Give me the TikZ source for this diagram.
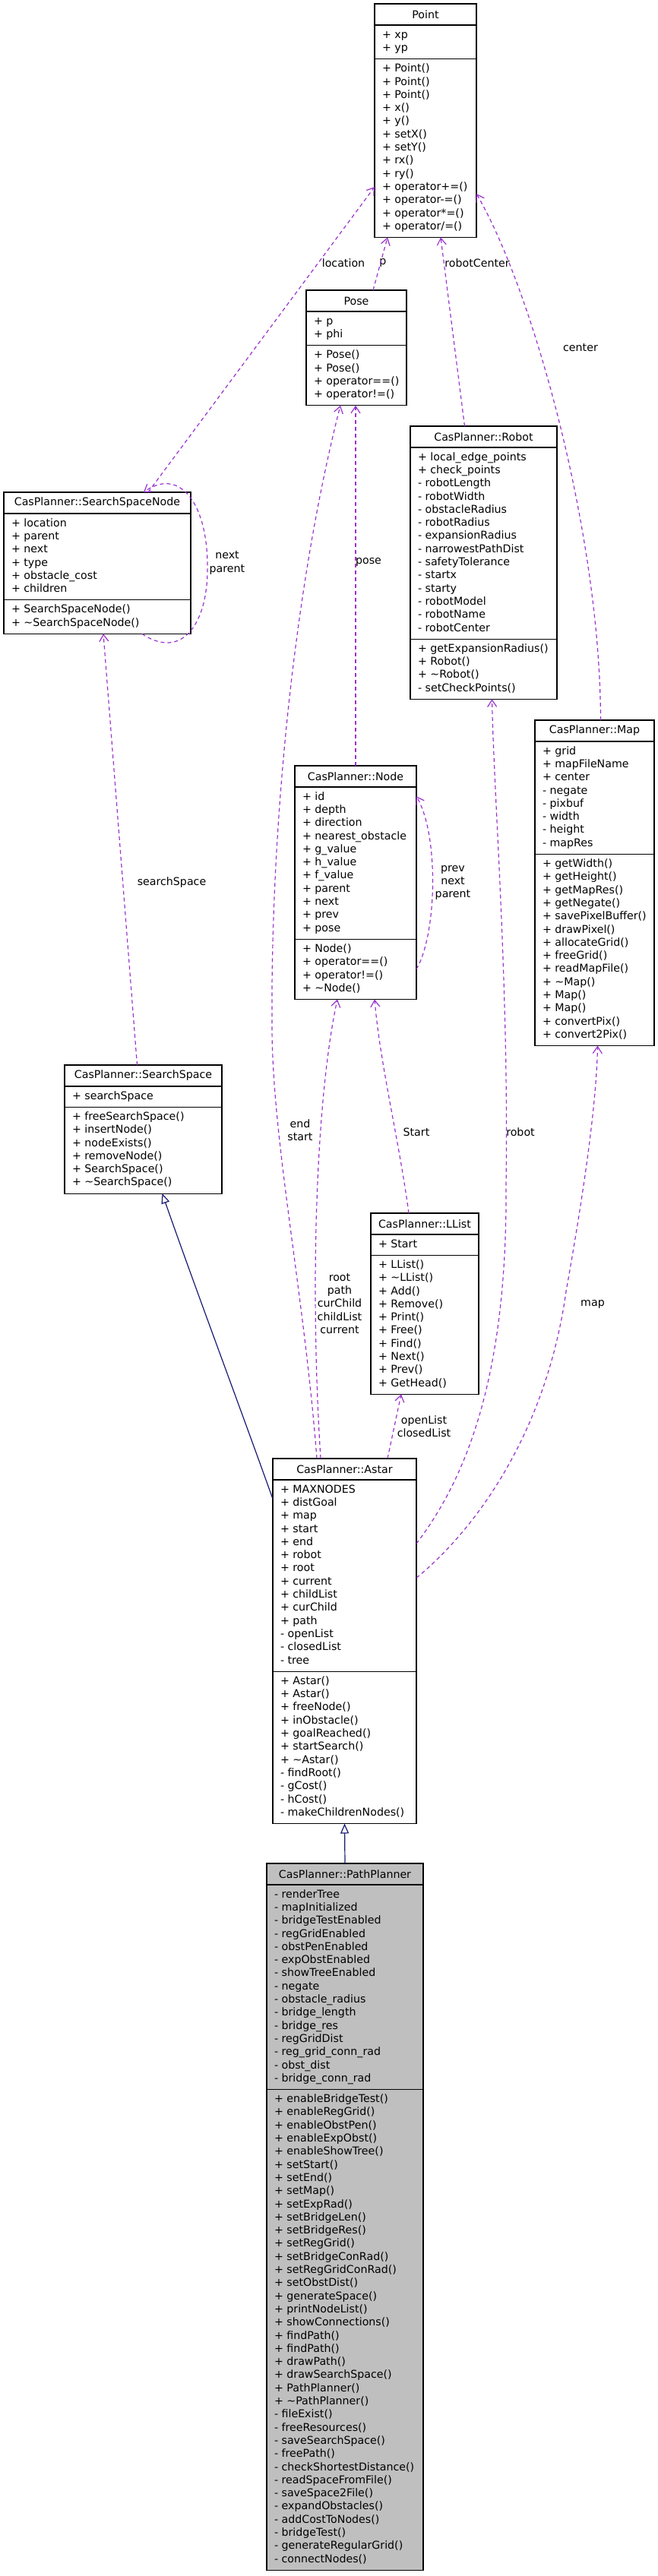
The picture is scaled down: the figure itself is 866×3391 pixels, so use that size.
\documentclass[tikz,border=0pt]{standalone}
\usepackage{fontspec}
\setmainfont{DejaVu Sans}
\usepackage{xcolor}
\usepackage{tikz}
\usetikzlibrary{positioning,arrows.meta}
\definecolor{usesPurple}{HTML}{9A32CD}
\definecolor{baseBlue}{HTML}{191970}
\definecolor{focusGray}{HTML}{BFBFBF}
\newcommand{\members}[2]{\makebox[\dimexpr#1-20pt\relax][l]{\begin{tabular}{@{}l@{}}#2\end{tabular}}}
\newcommand{\umlclass}[8]{%
  \node[clshead,fill=#2,minimum width=#5pt] (#1) at (#3,#4) {#6};
  \node[clsbody,fill=#2,minimum width=#5pt,below=0pt of #1] (#1-a) {\members{#5pt}{#7}};
  \node[clsbody,fill=#2,minimum width=#5pt,below=0pt of #1-a] (#1-m) {\members{#5pt}{#8}};}

\begin{document}
\begin{tikzpicture}[
  x=1pt,y=-1pt,
  font=\fontsize{14.2pt}{17.3pt}\selectfont,
  clshead/.style={draw,line width=1.2pt,anchor=north west,outer sep=0pt,inner sep=0pt,minimum height=28pt},
  clsbody/.style={draw,line width=1.2pt,outer sep=0pt,inner xsep=10pt,inner ysep=5pt},
  usearr/.style={-{Straight Barb[length=9pt,width=12pt]},usesPurple,line width=1.2pt,dash pattern=on 5pt off 4pt},
  inharr/.style={-{Triangle[open,length=13pt,width=11pt]},baseBlue,line width=1.2pt},
  lbl/.style={inner sep=0pt,align=center}
]
\useasboundingbox (0,0) rectangle (866,3391);

\umlclass{point}{white}{493}{5}{134}{Point}
  {+ xp\\+ yp}
  {+ Point()\\+ Point()\\+ Point()\\+ x()\\+ y()\\+ setX()\\+ setY()\\+ rx()\\+ ry()\\+ operator+=()\\+ operator-=()\\+ operator*=()\\+ operator/=()}
\umlclass{pose}{white}{403}{382}{132}{Pose}
  {+ p\\+ phi}
  {+ Pose()\\+ Pose()\\+ operator==()\\+ operator!=()}
\umlclass{ssn}{white}{5}{648}{246}{CasPlanner::SearchSpaceNode}
  {+ location\\+ parent\\+ next\\+ type\\+ obstacle\_cost\\+ children}
  {+ SearchSpaceNode()\\+ \textasciitilde SearchSpaceNode()}
\umlclass{robot}{white}{540}{561}{193}{CasPlanner::Robot}
  {+ local\_edge\_points\\+ check\_points\\- robotLength\\- robotWidth\\- obstacleRadius\\- robotRadius\\- expansionRadius\\- narrowestPathDist\\- safetyTolerance\\- startx\\- starty\\- robotModel\\- robotName\\- robotCenter}
  {+ getExpansionRadius()\\+ Robot()\\+ \textasciitilde Robot()\\- setCheckPoints()}
\umlclass{map}{white}{704}{948}{157}{CasPlanner::Map}
  {+ grid\\+ mapFileName\\+ center\\- negate\\- pixbuf\\- width\\- height\\- mapRes}
  {+ getWidth()\\+ getHeight()\\+ getMapRes()\\+ getNegate()\\+ savePixelBuffer()\\+ drawPixel()\\+ allocateGrid()\\+ freeGrid()\\+ readMapFile()\\+ \textasciitilde Map()\\+ Map()\\+ Map()\\+ convertPix()\\+ convert2Pix()}
\umlclass{node}{white}{388}{1008}{160}{CasPlanner::Node}
  {+ id\\+ depth\\+ direction\\+ nearest\_obstacle\\+ g\_value\\+ h\_value\\+ f\_value\\+ parent\\+ next\\+ prev\\+ pose}
  {+ Node()\\+ operator==()\\+ operator!=()\\+ \textasciitilde Node()}
\umlclass{sspace}{white}{85}{1402}{207}{CasPlanner::SearchSpace}
  {+ searchSpace}
  {+ freeSearchSpace()\\+ insertNode()\\+ nodeExists()\\+ removeNode()\\+ SearchSpace()\\+ \textasciitilde SearchSpace()}
\umlclass{llist}{white}{488}{1597}{142}{CasPlanner::LList}
  {+ Start}
  {+ LList()\\+ \textasciitilde LList()\\+ Add()\\+ Remove()\\+ Print()\\+ Free()\\+ Find()\\+ Next()\\+ Prev()\\+ GetHead()}
\umlclass{astar}{white}{359}{1920}{189}{CasPlanner::Astar}
  {+ MAXNODES\\+ distGoal\\+ map\\+ start\\+ end\\+ robot\\+ root\\+ current\\+ childList\\+ curChild\\+ path\\- openList\\- closedList\\- tree}
  {+ Astar()\\+ Astar()\\+ freeNode()\\+ inObstacle()\\+ goalReached()\\+ startSearch()\\+ \textasciitilde Astar()\\- findRoot()\\- gCost()\\- hCost()\\- makeChildrenNodes()}
\umlclass{pplanner}{focusGray}{351}{2453}{206}{CasPlanner::PathPlanner}
  {- renderTree\\- mapInitialized\\- bridgeTestEnabled\\- regGridEnabled\\- obstPenEnabled\\- expObstEnabled\\- showTreeEnabled\\- negate\\- obstacle\_radius\\- bridge\_length\\- bridge\_res\\- regGridDist\\- reg\_grid\_conn\_rad\\- obst\_dist\\- bridge\_conn\_rad}
  {+ enableBridgeTest()\\+ enableRegGrid()\\+ enableObstPen()\\+ enableExpObst()\\+ enableShowTree()\\+ setStart()\\+ setEnd()\\+ setMap()\\+ setExpRad()\\+ setBridgeLen()\\+ setBridgeRes()\\+ setRegGrid()\\+ setBridgeConRad()\\+ setRegGridConRad()\\+ setObstDist()\\+ generateSpace()\\+ printNodeList()\\+ showConnections()\\+ findPath()\\+ findPath()\\+ drawPath()\\+ drawSearchSpace()\\+ PathPlanner()\\+ \textasciitilde PathPlanner()\\- fileExist()\\- freeResources()\\- saveSearchSpace()\\- freePath()\\- checkShortestDistance()\\- readSpaceFromFile()\\- saveSpace2File()\\- expandObstacles()\\- addCostToNodes()\\- bridgeTest()\\- generateRegularGrid()\\- connectNodes()}

\node[lbl] (l-location) at (452,346) {location};
\node[lbl] (l-p) at (504,346) {p};
\node[lbl] (l-robotcenter) at (628,346) {robotCenter};
\node[lbl] (l-center) at (764,458) {center};
\node[lbl] (l-ssnloop) at (299,741) {next\\parent};
\node[lbl] (l-pose) at (485,740) {pose};
\node[lbl] (l-searchspace) at (226,1162) {searchSpace};
\node[lbl] (l-nodeloop) at (596,1162) {prev\\next\\parent};
\node[lbl] (l-start) at (548,1490) {Start};
\node[lbl] (l-robot) at (685,1490) {robot};
\node[lbl] (l-endstart) at (395,1488) {end\\start};
\node[lbl] (l-root) at (447,1716) {root\\path\\curChild\\childList\\current};
\node[lbl] (l-lists) at (558,1878) {openList\\closedList};
\node[lbl] (l-map) at (780,1717) {map};

\draw[usearr] ([xshift=67pt]ssn.north) -- ([yshift=-51pt]point-m.west);
\draw[usearr] ([xshift=22pt]pose.north) -- ([xshift=-50pt]point-m.south);
\draw[usearr] ([xshift=-25pt]robot.north) -- ([xshift=20pt]point-m.south);
\draw[usearr] ([xshift=8pt]map.north) .. controls (790,700) and (700,380) .. ([yshift=-60pt]point-m.east);
\draw[usearr] ([xshift=59pt]ssn-m.south) .. controls (240,870) and (275,820) .. (273,742) .. controls (272,660) and (235,615) .. ([xshift=61pt]ssn.north);
\draw[usearr] (node.north) -- ([xshift=-1pt]pose-m.south);
\draw[usearr] ([xshift=-8pt]sspace.north) -- ([xshift=8pt]ssn-m.south);
\draw[usearr] (node-m.east) .. controls (575,1230) and (578,1100) .. ([yshift=88pt]node-a.east);
\draw[usearr] ([xshift=-36.5pt]astar.north) .. controls (400,1700) and (358,1500) .. (358,1350) .. controls (356,1100) and (385,780) .. ([xshift=-21pt]pose-m.south);
\draw[usearr] ([xshift=-31.5pt]astar.north) .. controls (408,1700) and (415,1450) .. ([xshift=-24pt]node-m.south);
\draw[usearr] ([xshift=-21pt]llist.north) .. controls (525,1500) and (500,1400) .. ([xshift=25pt]node-m.south);
\draw[usearr] ([xshift=56.5pt]astar.north) -- ([xshift=-31pt]llist-m.south);
\draw[usearr] ([yshift=42pt]astar-a.east) .. controls (610,1950) and (668,1820) .. (666,1560) .. controls (670,1300) and (650,1050) .. ([xshift=11pt]robot-m.south);
\draw[usearr] ([yshift=-3pt]astar-a.east) .. controls (630,2010) and (720,1880) .. (745,1700) .. controls (770,1560) and (785,1450) .. ([xshift=4pt]map-m.south);
\draw[inharr] ([yshift=101pt]astar-a.west) .. controls (315,1850) and (255,1690) .. ([xshift=25pt]sspace-m.south);
\draw[inharr] (pplanner.north) -- (astar-m.south);
\end{tikzpicture}
\end{document}
